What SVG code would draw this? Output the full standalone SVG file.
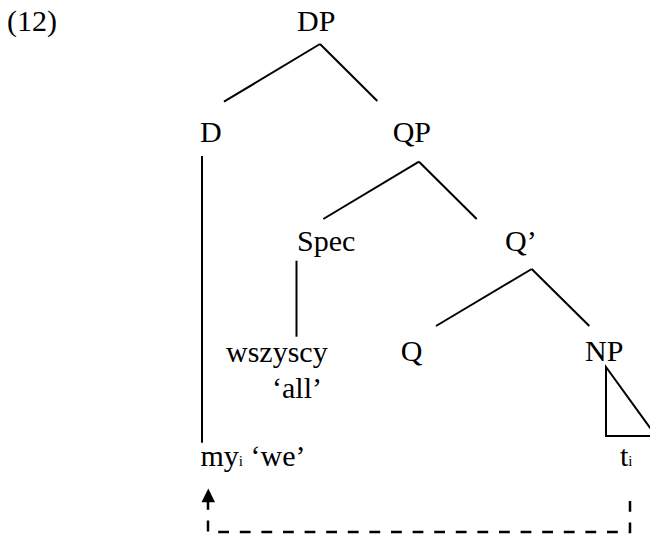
<svg xmlns="http://www.w3.org/2000/svg" width="650" height="535" viewBox="0 0 650 535">
  <style>
    text { font-family: "Liberation Serif", "DejaVu Serif", "Times New Roman", serif; font-size: 30px; fill: #000; }
    .edge { stroke: #000; stroke-width: 2; fill: none; }
    .move { stroke: #000; stroke-width: 2.5; fill: none; stroke-dasharray: 10.8 10.8; }
  </style>

  <text x="7" y="31">(12)</text>

  <g id="connectors">
    <!-- DP -> D, QP -->
    <line class="edge" x1="320" y1="44" x2="224" y2="101.7"/>
    <line class="edge" x1="320" y1="44" x2="377.3" y2="101"/>
    <!-- QP -> Spec, Q' -->
    <line class="edge" x1="419" y1="161.7" x2="323.3" y2="219"/>
    <line class="edge" x1="419" y1="161.7" x2="476.7" y2="219"/>
    <!-- Q' -> Q, NP -->
    <line class="edge" x1="531.7" y1="269" x2="436" y2="326"/>
    <line class="edge" x1="531.7" y1="269" x2="589.3" y2="326"/>
    <!-- D -> my -->
    <line class="edge" x1="202" y1="156" x2="202" y2="442.7"/>
    <!-- Spec -> wszyscy -->
    <line class="edge" x1="296.5" y1="260.7" x2="296.5" y2="336.7"/>
    <!-- NP triangle -->
    <path class="edge" d="M606,367 L606,436 L656,436 Z"/>
    <!-- movement of t to my -->
    <path class="move" d="M208,499 V532 H630 V495"/>
    <path d="M201.5,502.3 L208.3,488.5 L215,502.3 Z" fill="#000"/>
  </g>

  <g id="n-DP"><text x="297" y="31">DP</text></g>
  <g id="n-D"><text x="200" y="141.7">D</text></g>
  <g id="n-QP"><text x="392.7" y="141.7">QP</text></g>
  <g id="n-Spec"><text x="297" y="251">Spec</text></g>
  <g id="n-Qbar"><text x="505" y="251">Q’</text></g>
  <g id="n-wszyscy"><text x="226" y="362">wszyscy</text><text x="272" y="398">‘all’</text></g>
  <g id="n-Q"><text x="400.7" y="361">Q</text></g>
  <g id="n-NP"><text x="585" y="361">NP</text></g>
  <g id="n-my"><text x="200.5" y="466">my<tspan font-size="15">i</tspan> ‘we’</text></g>
  <g id="n-t"><text x="620" y="466">t<tspan font-size="15">i</tspan></text></g>
</svg>
